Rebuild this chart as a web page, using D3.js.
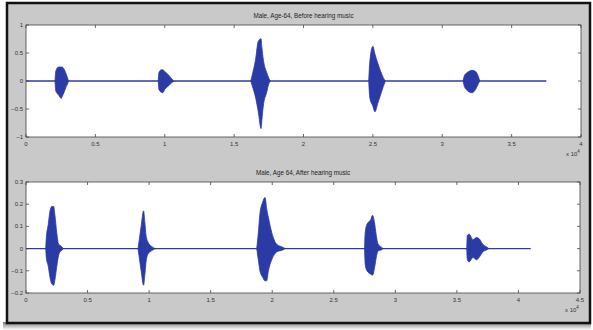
<!DOCTYPE html>
<html>
<head>
<meta charset="utf-8">
<script src="https://cdn.jsdelivr.net/npm/d3@7"></script>
<style>
  html, body { margin: 0; padding: 0; background: #fff; }
  svg { display: block; font-family: "Liberation Sans", Arial, sans-serif; }
</style>
</head>
<body>
<div id="chart"></div>
<script>
// titles
const titleBefore = "Male, Age-64, Before hearing music";
const titleAfter = "Male, Age 64, After hearing music";

// axis ticks (x in units of 10^4 samples)
const beforeXTicks = [0, 0.5, 1, 1.5, 2, 2.5, 3, 3.5, 4];
const beforeYTicks = [-1, -0.5, 0, 0.5, 1];
const afterXTicks = [0, 0.5, 1, 1.5, 2, 2.5, 3, 3.5, 4, 4.5];
const afterYTicks = [-0.2, -0.1, 0, 0.1, 0.2, 0.3];

// end of recorded signal (x 10^4)
const beforeEnd = 3.75;
const afterEnd = 4.10;

// burst envelopes: [x, upper, lower]
const beforeBursts = [
  [[0.209, 0, 0], [0.215, 0.18, -0.18], [0.235, 0.25, -0.25], [0.255, 0.25, -0.31], [0.26, 0.25, -0.28],
   [0.275, 0.21, -0.2], [0.29, 0.12, -0.1], [0.3, 0.05, -0.05], [0.306, 0, 0]],
  [[0.953, 0, 0], [0.958, 0.15, -0.15], [0.975, 0.2, -0.2], [0.985, 0.2, -0.21], [1.0, 0.17, -0.15],
   [1.03, 0.1, -0.08], [1.05, 0.04, -0.03], [1.065, 0, 0]],
  [[1.62, 0, 0], [1.63, 0.1, -0.08], [1.655, 0.39, -0.3], [1.674, 0.71, -0.55], [1.694, 0.755, -0.85],
   [1.70, 0.6, -0.7], [1.71, 0.39, -0.45], [1.735, 0.15, -0.2], [1.75, 0.05, -0.05], [1.76, 0, 0]],
  [[2.47, 0, 0], [2.478, 0.35, -0.3], [2.5, 0.62, -0.45], [2.515, 0.48, -0.55], [2.535, 0.32, -0.4],
   [2.555, 0.18, -0.25], [2.575, 0.06, -0.1], [2.59, 0, 0]],
  [[3.15, 0, 0], [3.16, 0.1, -0.1], [3.18, 0.15, -0.17], [3.215, 0.19, -0.21], [3.24, 0.17, -0.15],
   [3.26, 0.08, -0.05], [3.27, 0, 0]]
];

const afterBursts = [
  [[0.16, 0, 0], [0.165, 0.05, -0.04], [0.181, 0.11, -0.08], [0.195, 0.17, -0.13], [0.21, 0.19, -0.16],
   [0.225, 0.19, -0.165], [0.235, 0.15, -0.14], [0.25, 0.07, -0.08], [0.265, 0.02, -0.03],
   [0.276, 0.015, -0.015], [0.29, 0.008, -0.008], [0.305, 0, 0]],
  [[0.91, 0, 0], [0.92, 0.04, -0.04], [0.935, 0.1, -0.1], [0.955, 0.17, -0.165], [0.965, 0.12, -0.12],
   [0.975, 0.06, -0.06], [0.99, 0.03, -0.025], [1.02, 0.01, -0.01], [1.05, 0, 0]],
  [[1.874, 0, 0], [1.887, 0.07, -0.05], [1.90, 0.157, -0.1], [1.923, 0.21, -0.13], [1.942, 0.23, -0.145],
   [1.955, 0.18, -0.145], [1.969, 0.14, -0.1], [1.996, 0.073, -0.05], [2.036, 0.02, -0.015],
   [2.09, 0.005, -0.005], [2.104, 0, 0]],
  [[2.75, 0, 0], [2.755, 0.07, -0.07], [2.77, 0.11, -0.1], [2.8, 0.13, -0.115], [2.815, 0.15, -0.12],
   [2.83, 0.12, -0.09], [2.845, 0.06, -0.04], [2.86, 0.02, -0.01], [2.89, 0.005, -0.005], [2.9, 0, 0]],
  [[3.58, 0, 0], [3.585, 0.06, -0.05], [3.6, 0.065, -0.06], [3.63, 0.04, -0.04], [3.66, 0.05, -0.05],
   [3.68, 0.045, -0.04], [3.71, 0.02, -0.015], [3.74, 0.008, -0.006], [3.76, 0, 0]]
];

const W = 593, H = 330;
const waveColor = "#2c3aa6";

const svg = d3.select("#chart").append("svg")
  .attr("width", W).attr("height", H);

const defs = svg.append("defs");
defs.append("filter").attr("id", "soft")
  .append("feGaussianBlur").attr("stdDeviation", 0.35);
const shadow = defs.append("linearGradient").attr("id", "shadow")
  .attr("x1", 0).attr("x2", 0).attr("y1", 0).attr("y2", 1);
shadow.append("stop").attr("offset", "0%").attr("stop-color", "#777");
shadow.append("stop").attr("offset", "100%").attr("stop-color", "#fff");

// drop shadow + frame
svg.append("rect").attr("x", 3).attr("y", 322).attr("width", 588).attr("height", 8)
  .attr("fill", "url(#shadow)");
svg.append("rect").attr("x", 7).attr("y", 3).attr("width", 583).attr("height", 320)
  .attr("fill", "#c9c9c9").attr("stroke", "#111").attr("stroke-width", 2.5);

function drawPanel(cfg) {
  const x = d3.scaleLinear().domain(cfg.xDomain).range([cfg.left, cfg.right]);
  const y = d3.scaleLinear().domain(cfg.yDomain).range([cfg.bottom, cfg.top]);
  const g = svg.append("g");

  g.append("rect")
    .attr("x", cfg.left).attr("y", cfg.top)
    .attr("width", cfg.right - cfg.left).attr("height", cfg.bottom - cfg.top)
    .attr("fill", "#fff");

  const wave = g.append("g").attr("filter", "url(#soft)");

  // baseline of the recording
  wave.append("line")
    .attr("x1", x(0)).attr("x2", x(cfg.end))
    .attr("y1", y(0)).attr("y2", y(0))
    .attr("stroke", waveColor).attr("stroke-width", 1.3);

  const area = d3.area()
    .x(d => x(d[0]))
    .y0(d => y(d[2]))
    .y1(d => y(d[1]))
    .curve(d3.curveMonotoneX);

  wave.selectAll("path.burst")
    .data(cfg.bursts)
    .enter().append("path")
    .attr("class", "burst")
    .attr("d", area)
    .attr("fill", waveColor)
    .attr("stroke", waveColor)
    .attr("stroke-width", 0.8);

  // MATLAB-style box with inward ticks
  const tickLen = 3;
  const axes = g.append("g").attr("stroke", "#444").attr("stroke-width", 0.8);
  axes.append("rect")
    .attr("x", cfg.left).attr("y", cfg.top)
    .attr("width", cfg.right - cfg.left).attr("height", cfg.bottom - cfg.top)
    .attr("fill", "none");

  cfg.xTicks.forEach(t => {
    axes.append("line").attr("x1", x(t)).attr("x2", x(t))
      .attr("y1", cfg.bottom).attr("y2", cfg.bottom - tickLen);
    axes.append("line").attr("x1", x(t)).attr("x2", x(t))
      .attr("y1", cfg.top).attr("y2", cfg.top + tickLen);
  });
  cfg.yTicks.forEach(t => {
    axes.append("line").attr("x1", cfg.left).attr("x2", cfg.left + tickLen)
      .attr("y1", y(t)).attr("y2", y(t));
    axes.append("line").attr("x1", cfg.right).attr("x2", cfg.right - tickLen)
      .attr("y1", y(t)).attr("y2", y(t));
  });

  const labels = g.append("g").attr("fill", "#333").style("font-size", "6px");
  labels.selectAll("text.xt")
    .data(cfg.xTicks).enter().append("text")
    .attr("x", d => x(d)).attr("y", cfg.bottom + 9)
    .attr("text-anchor", "middle")
    .text(d => d3.format("")(d));
  labels.selectAll("text.yt")
    .data(cfg.yTicks).enter().append("text")
    .attr("x", cfg.left - 3).attr("y", d => y(d) + 2)
    .attr("text-anchor", "end")
    .text(d => d3.format("")(d));

  // exponent label
  const ex = labels.append("text")
    .attr("x", cfg.right - 15).attr("y", cfg.bottom + 19);
  ex.append("tspan").text("x 10");
  ex.append("tspan").attr("dy", -3).style("font-size", "4.5px").text("4");

  g.append("text")
    .attr("x", (cfg.left + cfg.right) / 2).attr("y", cfg.top - 7)
    .attr("text-anchor", "middle")
    .attr("fill", "#222")
    .style("font-size", "6.3px")
    .text(cfg.title);
}

drawPanel({
  title: titleBefore,
  left: 26, right: 581, top: 25, bottom: 137,
  xDomain: [0, 4], yDomain: [-1, 1],
  xTicks: beforeXTicks, yTicks: beforeYTicks,
  bursts: beforeBursts, end: beforeEnd
});

drawPanel({
  title: titleAfter,
  left: 26, right: 580, top: 182, bottom: 293,
  xDomain: [0, 4.5], yDomain: [-0.2, 0.3],
  xTicks: afterXTicks, yTicks: afterYTicks,
  bursts: afterBursts, end: afterEnd
});
</script>
</body>
</html>
